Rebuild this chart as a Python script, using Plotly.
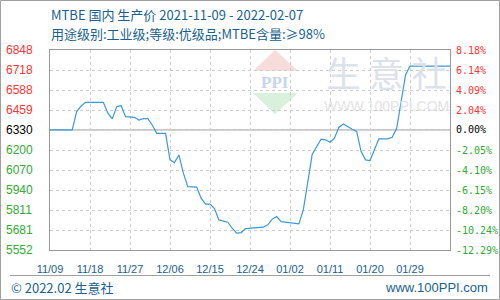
import plotly.graph_objects as go

# ---- data ----
dates = ["2021-11-09", "2021-11-14", "2021-11-15", "2021-11-16", "2021-11-17", "2021-11-21",
         "2021-11-22", "2021-11-23", "2021-11-24", "2021-11-25", "2021-11-26", "2021-11-28",
         "2021-11-29", "2021-11-30", "2021-12-01", "2021-12-02", "2021-12-03", "2021-12-05",
         "2021-12-06", "2021-12-07", "2021-12-08", "2021-12-09", "2021-12-10", "2021-12-12",
         "2021-12-13", "2021-12-14", "2021-12-15", "2021-12-16", "2021-12-17", "2021-12-19",
         "2021-12-20", "2021-12-21", "2021-12-22", "2021-12-23", "2021-12-27", "2021-12-28",
         "2021-12-29", "2021-12-30", "2021-12-31", "2022-01-04", "2022-01-05", "2022-01-06",
         "2022-01-07", "2022-01-09", "2022-01-10", "2022-01-11", "2022-01-12", "2022-01-13",
         "2022-01-14", "2022-01-16", "2022-01-17", "2022-01-18", "2022-01-19", "2022-01-20",
         "2022-01-21", "2022-01-22", "2022-01-24", "2022-01-25", "2022-01-26", "2022-01-27",
         "2022-01-28", "2022-01-29", "2022-02-07"]
prices = [6330, 6330, 6449, 6485, 6509, 6509,
          6440, 6401, 6481, 6488, 6416, 6412,
          6394, 6403, 6403, 6362, 6308, 6308,
          6136, 6118, 6168, 6050, 5963, 5959,
          5888, 5849, 5849, 5821, 5747, 5732,
          5693, 5661, 5665, 5690, 5700, 5715,
          5752, 5769, 5736, 5721, 5812, 6007,
          6173, 6270, 6266, 6250, 6276, 6348,
          6369, 6334, 6320, 6190, 6136, 6132,
          6200, 6272, 6272, 6283, 6341, 6503,
          6686, 6744, 6744]

base_price = 6330
y_ticks = [6848, 6718, 6588, 6459, 6330, 6200, 6070, 5940, 5811, 5681, 5552]
pct_labels = ["8.18%", "6.14%", "4.09%", "2.04%", "0.00%", "-2.05%", "-4.10%",
              "-6.15%", "-8.20%", "-10.24%", "-12.29%"]
x_tick_dates = ["2021-11-09", "2021-11-18", "2021-11-27", "2021-12-06", "2021-12-15",
                "2021-12-24", "2022-01-02", "2022-01-11", "2022-01-20", "2022-01-29"]
x_tick_labels = ["11/09", "11/18", "11/27", "12/06", "12/15", "12/24", "01/02", "01/11", "01/20", "01/29"]

title1 = "MTBE 国内 生产价 2021-11-09 - 2022-02-07"
title2 = "用途级别:工业级;等级:优级品;MTBE含量:≥98%"
footer_left = "© 2022.02 生意社"
footer_right = "www.100PPI.com"

# ---- figure geometry helpers (pixels -> paper) ----
W, H = 500, 300
L, R, T, B = 50, 50, 50, 50
PW, PH = W - L - R, H - T - B
def px(x):
    return (x - L) / PW
def py(y):
    return (H - B - y) / PH

RED, GREEN, BLACK = "#ff3333", "#33aa33", "#000000"
BLUE_TXT = "#1b5f8e"
LINE = "#3d98d8"

fig = go.Figure()
fig.add_trace(go.Scatter(x=dates, y=prices, mode="lines",
                         line=dict(color=LINE, width=1.2), hoverinfo="skip", showlegend=False))

shapes = []
annotations = []

def note(x, y, text, font, xanchor="center", yanchor="middle", yref="paper"):
    annotations.append(dict(x=x, y=y, xref="paper", yref=yref, text=text, showarrow=False,
                            xanchor=xanchor, yanchor=yanchor, font=font))

# watermark: PPI logo
shapes.append(dict(type="path", xref="paper", yref="paper", layer="below",
                   path=f"M {px(253)} {py(71)} L {px(275)} {py(50)} L {px(298)} {py(71)} Z",
                   fillcolor="#f8dcdc", line=dict(width=0)))
shapes.append(dict(type="path", xref="paper", yref="paper", layer="below",
                   path=f"M {px(253)} {py(93)} L {px(298)} {py(93)} L {px(275)} {py(114)} Z",
                   fillcolor="#d9f0dc", line=dict(width=0)))
note(px(275), py(82), "<b>PPI</b>", dict(family="Liberation Serif", size=17, color="#c9d3ec"))
note(px(386), py(71), "生 意 社", dict(family="Noto Sans CJK SC", size=35, color="#dde1ea"))
note(px(386), py(106), "WWW.100PPI.COM", dict(family="Liberation Sans", size=14, color="#e3e3e3"))

# zero line
shapes.append(dict(type="line", xref="paper", yref="y", x0=0, x1=1, y0=base_price, y1=base_price,
                   line=dict(color="#999999", width=1), layer="below"))

# outer border & footer separator
shapes.append(dict(type="rect", xref="paper", yref="paper", x0=px(0.5), x1=px(499.5), y0=py(0.5), y1=py(299.5),
                   line=dict(color="#a0a0a0", width=1)))
shapes.append(dict(type="line", xref="paper", yref="paper", x0=px(10), x1=px(490), y0=py(275.5), y1=py(275.5),
                   line=dict(color="#a0a0a0", width=1)))

# y tick labels (left prices, right percentages)
for v, p in zip(y_ticks, pct_labels):
    c = RED if v > base_price else (BLACK if v == base_price else GREEN)
    note(px(4), v, str(v), dict(family="Liberation Sans", size=12, color=c), xanchor="left", yref="y")
    note(px(454), v, p, dict(family="DejaVu Sans Mono", size=10, color=c), xanchor="left", yref="y")

# titles and footer
note(px(49), py(15), title1, dict(family="Noto Sans CJK SC", size=13, color=BLUE_TXT), xanchor="left")
note(px(49), py(34), title2, dict(family="Noto Sans CJK SC", size=13, color=BLUE_TXT), xanchor="left")
note(px(9), py(287), footer_left, dict(family="Noto Sans CJK SC", size=13, color=BLUE_TXT), xanchor="left")
note(px(490), py(287), footer_right, dict(family="Liberation Sans", size=13, color=BLUE_TXT), xanchor="right")

fig.update_layout(
    width=W, height=H, margin=dict(l=L, r=R, t=T, b=B),
    paper_bgcolor="white", plot_bgcolor="white",
    shapes=shapes, annotations=annotations,
    xaxis=dict(range=["2021-11-09", "2022-02-07"], tickvals=x_tick_dates, ticktext=x_tick_labels,
               showgrid=True, gridcolor="#cccccc", griddash="3px,3px", gridwidth=1,
               showline=True, linecolor="#999999", linewidth=1, mirror=True,
               ticks="outside", ticklen=9, tickcolor="rgba(0,0,0,0)",
               tickfont=dict(family="Liberation Sans", size=11, color=BLUE_TXT),
               zeroline=False, fixedrange=True),
    yaxis=dict(range=[5552, 6848], tickvals=y_ticks, showticklabels=False,
               showgrid=True, gridcolor="#cccccc", griddash="3px,3px", gridwidth=1,
               showline=True, linecolor="#999999", linewidth=1, mirror=True,
               zeroline=False, fixedrange=True),
)

fig.write_html("out.html")
